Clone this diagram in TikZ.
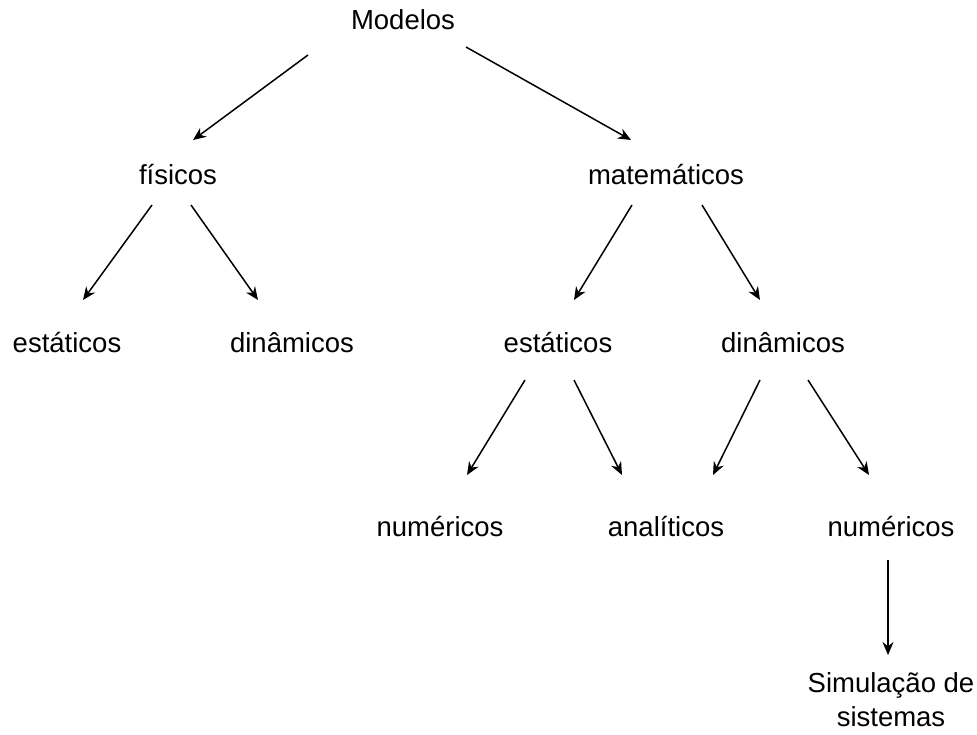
\documentclass[tikz,border=0pt]{standalone}
\usepackage{fontspec}
\setmainfont{Liberation Sans}
\usetikzlibrary{arrows.meta}

\begin{document}
\begin{tikzpicture}[x=1pt, y=-1pt,
    every node/.style={inner sep=0pt, font=\fontsize{27.5}{34}\selectfont},
    arr/.style={-{Stealth[length=13pt,width=11pt]}, line width=1.5pt}]
  \useasboundingbox (0,0) rectangle (977,734);

  % tree levels
  \node (modelos) at (403,20) {Modelos};
  \node (fis) at (178,175) {físicos};
  \node (mat) at (666,175) {matemáticos};
  \node (fisest) at (67,343) {estáticos};
  \node (fisdin) at (292,343) {dinâmicos};
  \node (matest) at (558,343) {estáticos};
  \node (matdin) at (783,343) {dinâmicos};
  \node (estnum) at (440,527) {numéricos};
  \node (anal) at (666,527) {analíticos};
  \node (dinnum) at (891,527) {numéricos};
  \node[align=center] (sim) at (891,700) {Simulação de\\sistemas};

  % connectors
  \draw[arr] ([shift={(-95,35)}]modelos.center) -- ([shift={(15,-35)}]fis.center);
  \draw[arr] ([shift={(63,27)}]modelos.center) -- ([shift={(-35,-35)}]mat.center);
  \draw[arr] ([shift={(-26,30)}]fis.center) -- ([shift={(16,-43)}]fisest.center);
  \draw[arr] ([shift={(13,30)}]fis.center) -- ([shift={(-34,-43)}]fisdin.center);
  \draw[arr] ([shift={(-34,30)}]mat.center) -- ([shift={(16,-43)}]matest.center);
  \draw[arr] ([shift={(36,30)}]mat.center) -- ([shift={(-23,-43)}]matdin.center);
  \draw[arr] ([shift={(-33,37)}]matest.center) -- ([shift={(27,-52)}]estnum.center);
  \draw[arr] ([shift={(16,37)}]matest.center) -- ([shift={(-44,-52)}]anal.center);
  \draw[arr] ([shift={(-23,37)}]matdin.center) -- ([shift={(47,-52)}]anal.center);
  \draw[arr] ([shift={(25,37)}]matdin.center) -- ([shift={(-22,-52)}]dinnum.center);
  \draw[arr] ([shift={(-3,33)}]dinnum.center) -- ([shift={(-3,-45)}]sim.center);
\end{tikzpicture}
\end{document}
